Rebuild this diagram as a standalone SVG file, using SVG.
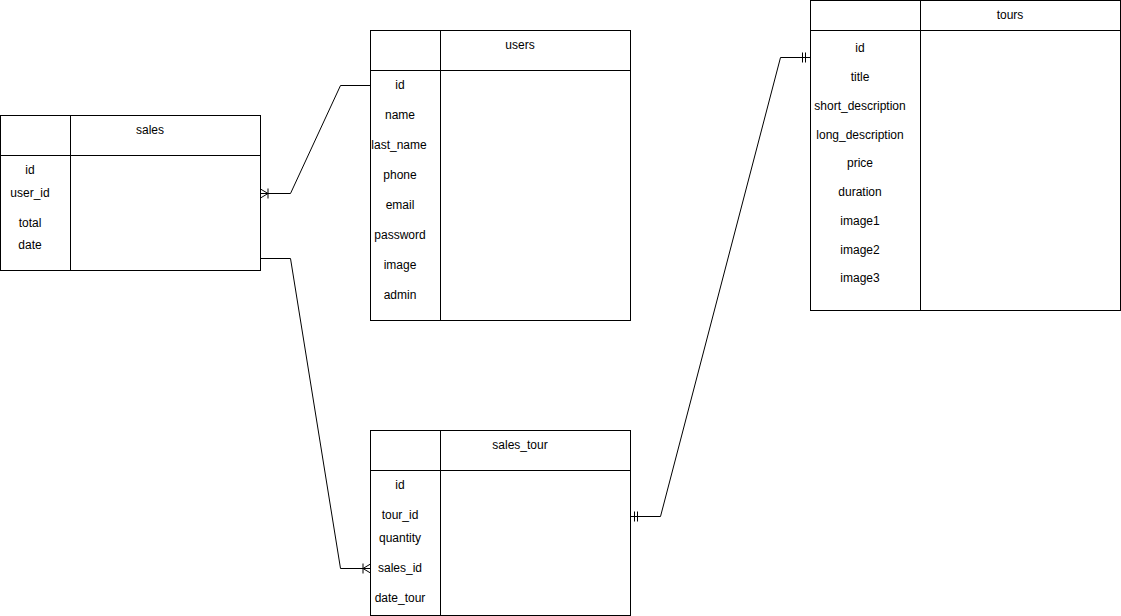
<svg xmlns="http://www.w3.org/2000/svg" width="1121" height="616" viewBox="0 0 1121 616">
<style>
.box{fill:#fff;stroke:#000;stroke-width:1}
.ln{fill:none;stroke:#000;stroke-width:1}
text{font-family:"Liberation Sans",Arial,sans-serif;font-size:12px;fill:#000;text-anchor:middle}
</style>
<rect width="1121" height="616" fill="#fff"/>
<g id="connectors" class="conn">
<path class="ln" d="M260.5 193.5 H290.5 L340.5 85.5 H370.5"/>
<path class="ln" d="M260.5 189 L268 193.5 L260.5 198 M268 188.5 V198.5"/>
<path class="ln" d="M260.5 258.5 H290.5 L340.5 568.5 H370.5"/>
<path class="ln" d="M370.5 564 L363 568.5 L370.5 573 M363 563.5 V573.5"/>
<path class="ln" d="M630.5 516.5 H660.5 L780.5 57.5 H810.5"/>
<path class="ln" d="M634.5 511.5 V521.5 M637.5 511.5 V521.5"/>
<path class="ln" d="M802.5 52.5 V62.5 M805.5 52.5 V62.5"/>
</g>
<g id="sales">
<rect class="box" x="0.5" y="115.5" width="260" height="155"/>
<path class="ln" d="M0.5 155.5 H260.5 M70.5 115.5 V270.5"/>
<text x="150" y="134">sales</text>
<text x="30" y="174">id</text>
<text x="30" y="197">user_id</text>
<text x="30" y="227">total</text>
<text x="30" y="249">date</text>
</g>
<g id="users">
<rect class="box" x="370.5" y="30.5" width="260" height="290"/>
<path class="ln" d="M370.5 70.5 H630.5 M440.5 30.5 V320.5"/>
<text x="520" y="49">users</text>
<text x="400" y="89">id</text>
<text x="400" y="119">name</text>
<text x="399" y="149">last_name</text>
<text x="400" y="179">phone</text>
<text x="400" y="209">email</text>
<text x="400" y="239">password</text>
<text x="400" y="269">image</text>
<text x="400" y="299">admin</text>
</g>
<g id="sales_tour">
<rect class="box" x="370.5" y="430.5" width="260" height="185"/>
<path class="ln" d="M370.5 470.5 H630.5 M440.5 430.5 V615.5"/>
<text x="520" y="449">sales_tour</text>
<text x="400" y="489">id</text>
<text x="400" y="519">tour_id</text>
<text x="400" y="542">quantity</text>
<text x="400" y="572">sales_id</text>
<text x="400" y="602">date_tour</text>
</g>
<g id="tours">
<rect class="box" x="810.5" y="0.5" width="310" height="310"/>
<path class="ln" d="M810.5 30.5 H1120.5 M920.5 0.5 V310.5"/>
<text x="1010" y="19">tours</text>
<text x="860" y="52">id</text>
<text x="860" y="81">title</text>
<text x="860" y="110">short_description</text>
<text x="860" y="139">long_description</text>
<text x="860" y="167">price</text>
<text x="860" y="196">duration</text>
<text x="860" y="225">image1</text>
<text x="860" y="254">image2</text>
<text x="860" y="282">image3</text>
</g>
</svg>
